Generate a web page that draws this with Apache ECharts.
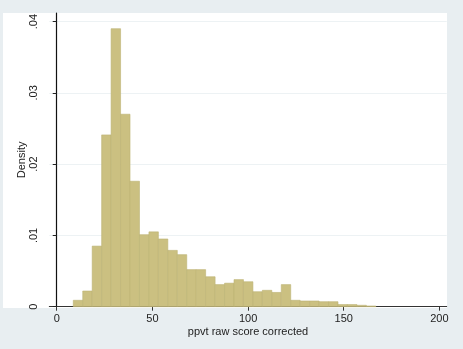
<!DOCTYPE html>
<html>
<head>
<meta charset="utf-8">
<script src="https://cdn.jsdelivr.net/npm/echarts@6/dist/echarts.min.js"></script>
<style>
html,body{margin:0;padding:0;background:#e8eef1;}
#chart{width:463px;height:349px;}
</style>
</head>
<body>
<div id="chart"></div>
<script>
// Histogram bins: first bin start and bin width (ppvt raw score units)
const binStart = 8.67;
const binWidth = 4.94;
// Density of each bin, left to right
const density = [
  0.0009, 0.0022, 0.0085, 0.0241, 0.0390, 0.0270, 0.0176, 0.0101,
  0.0105, 0.0095, 0.0079, 0.0073, 0.0052, 0.0052, 0.0042, 0.0031,
  0.0033, 0.0038, 0.0035, 0.0021, 0.0023, 0.0020, 0.0031, 0.0009,
  0.0008, 0.0008, 0.0007, 0.0007, 0.0003, 0.0003, 0.0002, 0.0001
];
const xTicks = [0, 50, 100, 150, 200];
const yTicks = [0, 0.01, 0.02, 0.03, 0.04];
const yTickLabels = ['0', '.01', '.02', '.03', '.04'];
const xTitle = 'ppvt raw score corrected';
const yTitle = 'Density';

const histData = density.map((d, i) => [binStart + i * binWidth, binStart + (i + 1) * binWidth, d]);

const chart = echarts.init(document.getElementById('chart'), null, {renderer: 'canvas'});
const font = 'Liberation Sans, Arial, sans-serif';
chart.setOption({
  animation: false,
  backgroundColor: '#e8eef1',
  graphic: {
    elements: [{
      type: 'rect', z: -100, silent: true,
      shape: {x: 3, y: 13, width: 444, height: 295},
      style: {fill: '#ffffff'}
    }]
  },
  grid: {left: 49.3, right: 16.3, top: 13, bottom: 42.3},
  xAxis: {
    type: 'value', min: -3.87, max: 203.8,
    name: xTitle, nameLocation: 'middle', nameGap: 20, nameMoveOverlap: false,
    nameTextStyle: {color: '#222', fontSize: 11, fontFamily: font},
    axisLine: {show: true, lineStyle: {color: '#333', width: 1}},
    axisTick: {show: true, length: 4, inside: false, customValues: xTicks, lineStyle: {color: '#333'}},
    axisLabel: {customValues: xTicks, margin: 7, color: '#222', fontSize: 11, fontFamily: font},
    splitLine: {show: false}
  },
  yAxis: {
    type: 'value', min: 0, max: 0.0412,
    name: yTitle, nameLocation: 'middle', nameGap: 22, nameRotate: 90, nameMoveOverlap: false,
    nameTextStyle: {color: '#222', fontSize: 11, fontFamily: font},
    axisLine: {show: true, lineStyle: {color: '#111', width: 1.2}},
    axisTick: {show: true, length: 4, customValues: yTicks, lineStyle: {color: '#222'}},
    axisLabel: {
      customValues: yTicks, rotate: 90, margin: 10, color: '#222', fontSize: 11, fontFamily: font,
      formatter: function (v) {
        const i = yTicks.findIndex(t => Math.abs(t - v) < 1e-9);
        return i >= 0 ? yTickLabels[i] : '';
      }
    },
    splitLine: {show: true, lineStyle: {color: '#edf2f4', width: 1}},
    interval: 0.01
  },
  series: [{
    type: 'custom',
    data: histData,
    encode: {x: [0, 1], y: 2},
    renderItem: function (params, api) {
      const x0 = api.value(0), x1 = api.value(1), y = api.value(2);
      const p0 = api.coord([x0, y]);
      const p1 = api.coord([x1, 0]);
      return {
        type: 'rect',
        shape: {x: p0[0], y: p0[1], width: p1[0] - p0[0], height: p1[1] - p0[1]},
        style: {fill: '#cbc081', stroke: '#bcb173', lineWidth: 0.6}
      };
    }
  }]
});
</script>
</body>
</html>
